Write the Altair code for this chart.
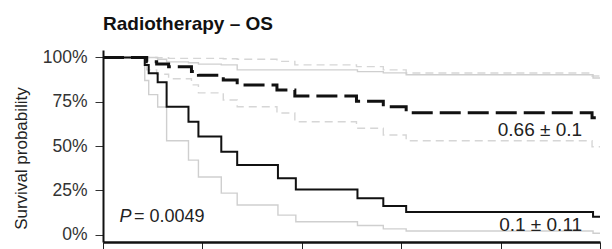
import altair as alt
import pandas as pd

# ---- data (time in axis-tick units, survival as fraction) ----
g1_time = [0, 0.42, 0.46, 0.55, 0.64, 0.86, 0.96, 1.19, 1.35, 1.76, 1.94, 2.56, 2.82, 3.05, 4.93, 5.0]
g1_surv = [1.0, 0.958, 0.911, 0.860, 0.722, 0.637, 0.553, 0.468, 0.393, 0.318, 0.255, 0.205, 0.161, 0.127, 0.10, 0.10]
g1_low = [1.0, 0.87, 0.79, 0.72, 0.53, 0.42, 0.325, 0.234, 0.167, 0.11, 0.072, 0.051, 0.032, 0.02, 0.007, 0.007]
g1_up = [1.0, 1.0, 1.0, 0.99, 0.975, 0.97, 0.962, 0.958, 0.93, 0.93, 0.93, 0.92, 0.913, 0.902, 0.884, 0.884]

g2_time = [0, 0.44, 0.54, 0.66, 0.89, 0.96, 1.21, 1.35, 1.75, 1.93, 2.55, 2.82, 3.05, 4.92, 5.0]
g2_surv = [1.0, 0.976, 0.963, 0.948, 0.92, 0.90, 0.873, 0.845, 0.816, 0.782, 0.752, 0.722, 0.688, 0.66, 0.66]
g2_low = [1.0, 0.93, 0.905, 0.88, 0.845, 0.80, 0.76, 0.722, 0.686, 0.637, 0.60, 0.562, 0.53, 0.496, 0.496]
g2_up = [1.0, 1.0, 0.998, 0.995, 0.995, 0.995, 0.993, 0.99, 0.978, 0.958, 0.948, 0.93, 0.912, 0.895, 0.895]

x_ticks = [0, 1, 2, 3, 4, 5]
y_ticks = [0, 0.25, 0.5, 0.75, 1.0]

ann_text = ["0.66 \u00b1 0.1", "0.1 \u00b1 0.11"]
ann_time = [4.82, 4.82]
ann_surv = [0.559, 0.02]

p_label = "P"
p_value = "= 0.0049"
p_time = [0.165]
p_surv = [0.072]

FONT = "Liberation Sans"

xs = alt.Scale(domain=[0, 5], nice=False, zero=False)
ys = alt.Scale(domain=[-0.042, 1.042], nice=False, zero=False)

xaxis = alt.Axis(values=x_ticks, labels=False, title=None, grid=False, tickSize=8,
                 tickColor="#222", tickWidth=1, domainColor="#111", domainWidth=2.3)
yaxis = alt.Axis(values=y_ticks, format=".0%", title="Survival probability", grid=False,
                 tickSize=8, tickColor="#333", tickWidth=1, domainColor="#111", domainWidth=2,
                 labelFont=FONT, labelFontSize=17.5, labelColor="#333", labelPadding=8,
                 titleFont=FONT, titleFontSize=17, titleFontWeight="normal", titleColor="#222",
                 titlePadding=12, titleY=108)


def step_line(t, s, color, width, dash=None):
    df = pd.DataFrame({"t": t, "s": s})
    kw = dict(interpolate="step-after", color=color, strokeWidth=width, clip=True)
    if dash:
        kw["strokeDash"] = dash
    return alt.Chart(df).mark_line(**kw).encode(
        x=alt.X("t:Q", scale=xs, axis=xaxis),
        y=alt.Y("s:Q", scale=ys, axis=yaxis),
    )


layers = [
    step_line(g2_time, g2_up, "#d6d6d6", 1.4, [8, 5]),
    step_line(g2_time, g2_low, "#d6d6d6", 1.4, [8, 5]),
    step_line(g1_time, g1_up, "#cfcfcf", 1.4),
    step_line(g1_time, g1_low, "#cfcfcf", 1.4),
    step_line(g1_time, g1_surv, "#111111", 2.0),
    step_line(g2_time, g2_surv, "#111111", 3.0, [21, 7]),
]

ann_df = pd.DataFrame({"label": ann_text, "t": ann_time, "s": ann_surv})
ann = alt.Chart(ann_df).mark_text(align="right", baseline="alphabetic", font=FONT,
                                  fontSize=19, color="#222").encode(
    x=alt.X("t:Q", scale=xs), y=alt.Y("s:Q", scale=ys), text="label:N")

p_df = pd.DataFrame({"a": [p_label], "b": [p_value], "t": p_time, "s": p_surv})
p1 = alt.Chart(p_df).mark_text(align="left", baseline="alphabetic", font=FONT, fontSize=18,
                               fontStyle="italic", color="#222").encode(
    x=alt.X("t:Q", scale=xs), y=alt.Y("s:Q", scale=ys), text="a:N")
p2 = alt.Chart(p_df).mark_text(align="left", baseline="alphabetic", font=FONT, fontSize=18,
                               dx=14.5, color="#222").encode(
    x=alt.X("t:Q", scale=xs), y=alt.Y("s:Q", scale=ys), text="b:N")

chart = alt.layer(*layers, ann, p1, p2).properties(
    width=497,
    height=192,
    title=alt.Title("Radiotherapy \u2013 OS", anchor="start", frame="group", font=FONT,
                    fontSize=19, fontWeight="bold", color="#111", offset=14),
    autosize=alt.AutoSizeParams(type="none"),
    padding={"left": 95, "top": 42, "right": 4, "bottom": 8},
).configure_view(strokeWidth=0)

chart.save("out.html", embed_options={"renderer": "svg", "actions": False})
